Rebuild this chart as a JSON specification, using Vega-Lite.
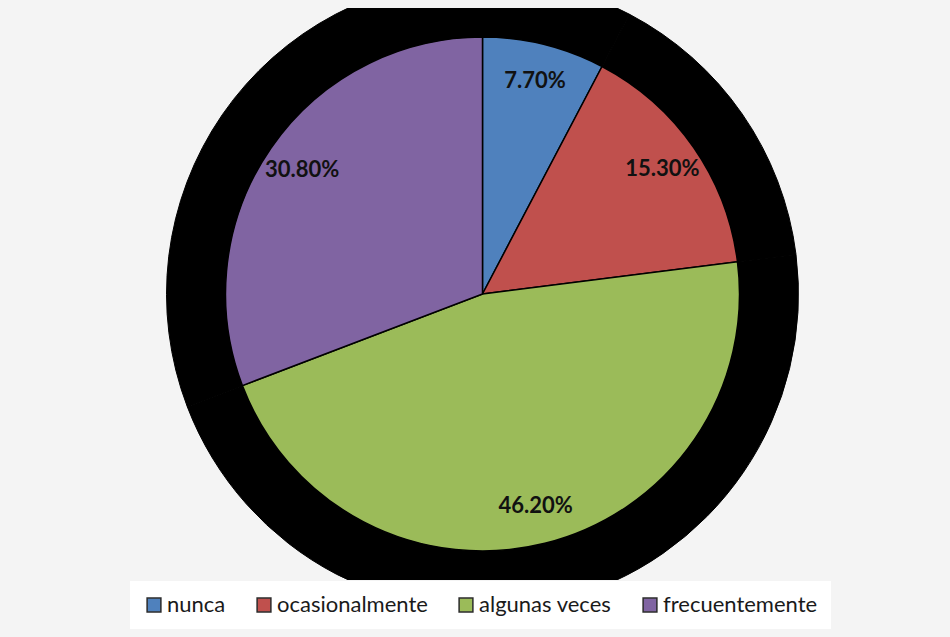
{
  "$schema": "https://vega.github.io/schema/vega-lite/v6.json",
  "width": 651,
  "height": 572,
  "autosize": {"type": "none"},
  "padding": {"left": 157, "top": 8, "right": 142, "bottom": 57},
  "background": "#f4f4f4",
  "config": {
    "view": {"stroke": null, "fill": "white"},
    "font": "Lato"
  },
  "data": {
    "values": [
      {"respuesta": "nunca", "porcentaje": 0.077, "orden": 1},
      {"respuesta": "ocasionalmente", "porcentaje": 0.153, "orden": 2},
      {"respuesta": "algunas veces", "porcentaje": 0.462, "orden": 3},
      {"respuesta": "frecuentemente", "porcentaje": 0.308, "orden": 4}
    ]
  },
  "encoding": {
    "theta": {"field": "porcentaje", "type": "quantitative", "stack": true},
    "order": {"field": "orden", "type": "quantitative"}
  },
  "layer": [
    {
      "mark": {"type": "arc", "radius": 316, "fill": "black", "stroke": "black", "strokeWidth": 1, "clip": true}
    },
    {
      "mark": {"type": "arc", "radius": 257, "stroke": "black", "strokeWidth": 1.5},
      "encoding": {
        "color": {
          "field": "respuesta",
          "type": "nominal",
          "scale": {
            "domain": ["nunca", "ocasionalmente", "algunas veces", "frecuentemente"],
            "range": ["#4F81BD", "#C0504D", "#9BBB59", "#8064A2"]
          },
          "legend": {
            "orient": "none",
            "legendX": -27,
            "legendY": 573,
            "direction": "horizontal",
            "title": null,
            "fillColor": "white",
            "padding": 13,
            "symbolType": "square",
            "symbolSize": 190,
            "symbolStrokeColor": "#2b2b2b",
            "symbolStrokeWidth": 1.5,
            "labelFont": "Lato",
            "labelFontSize": 22,
            "labelColor": "#1a1a1a",
            "labelOffset": 2,
            "columnPadding": 27,
            "labelLimit": 300
          }
        }
      }
    },
    {
      "mark": {"type": "text", "radius": 219, "fontWeight": "bold", "fontSize": 22, "font": "Lato", "color": "#111111"},
      "encoding": {
        "text": {"field": "porcentaje", "type": "quantitative", "format": ".2%"}
      }
    }
  ]
}
